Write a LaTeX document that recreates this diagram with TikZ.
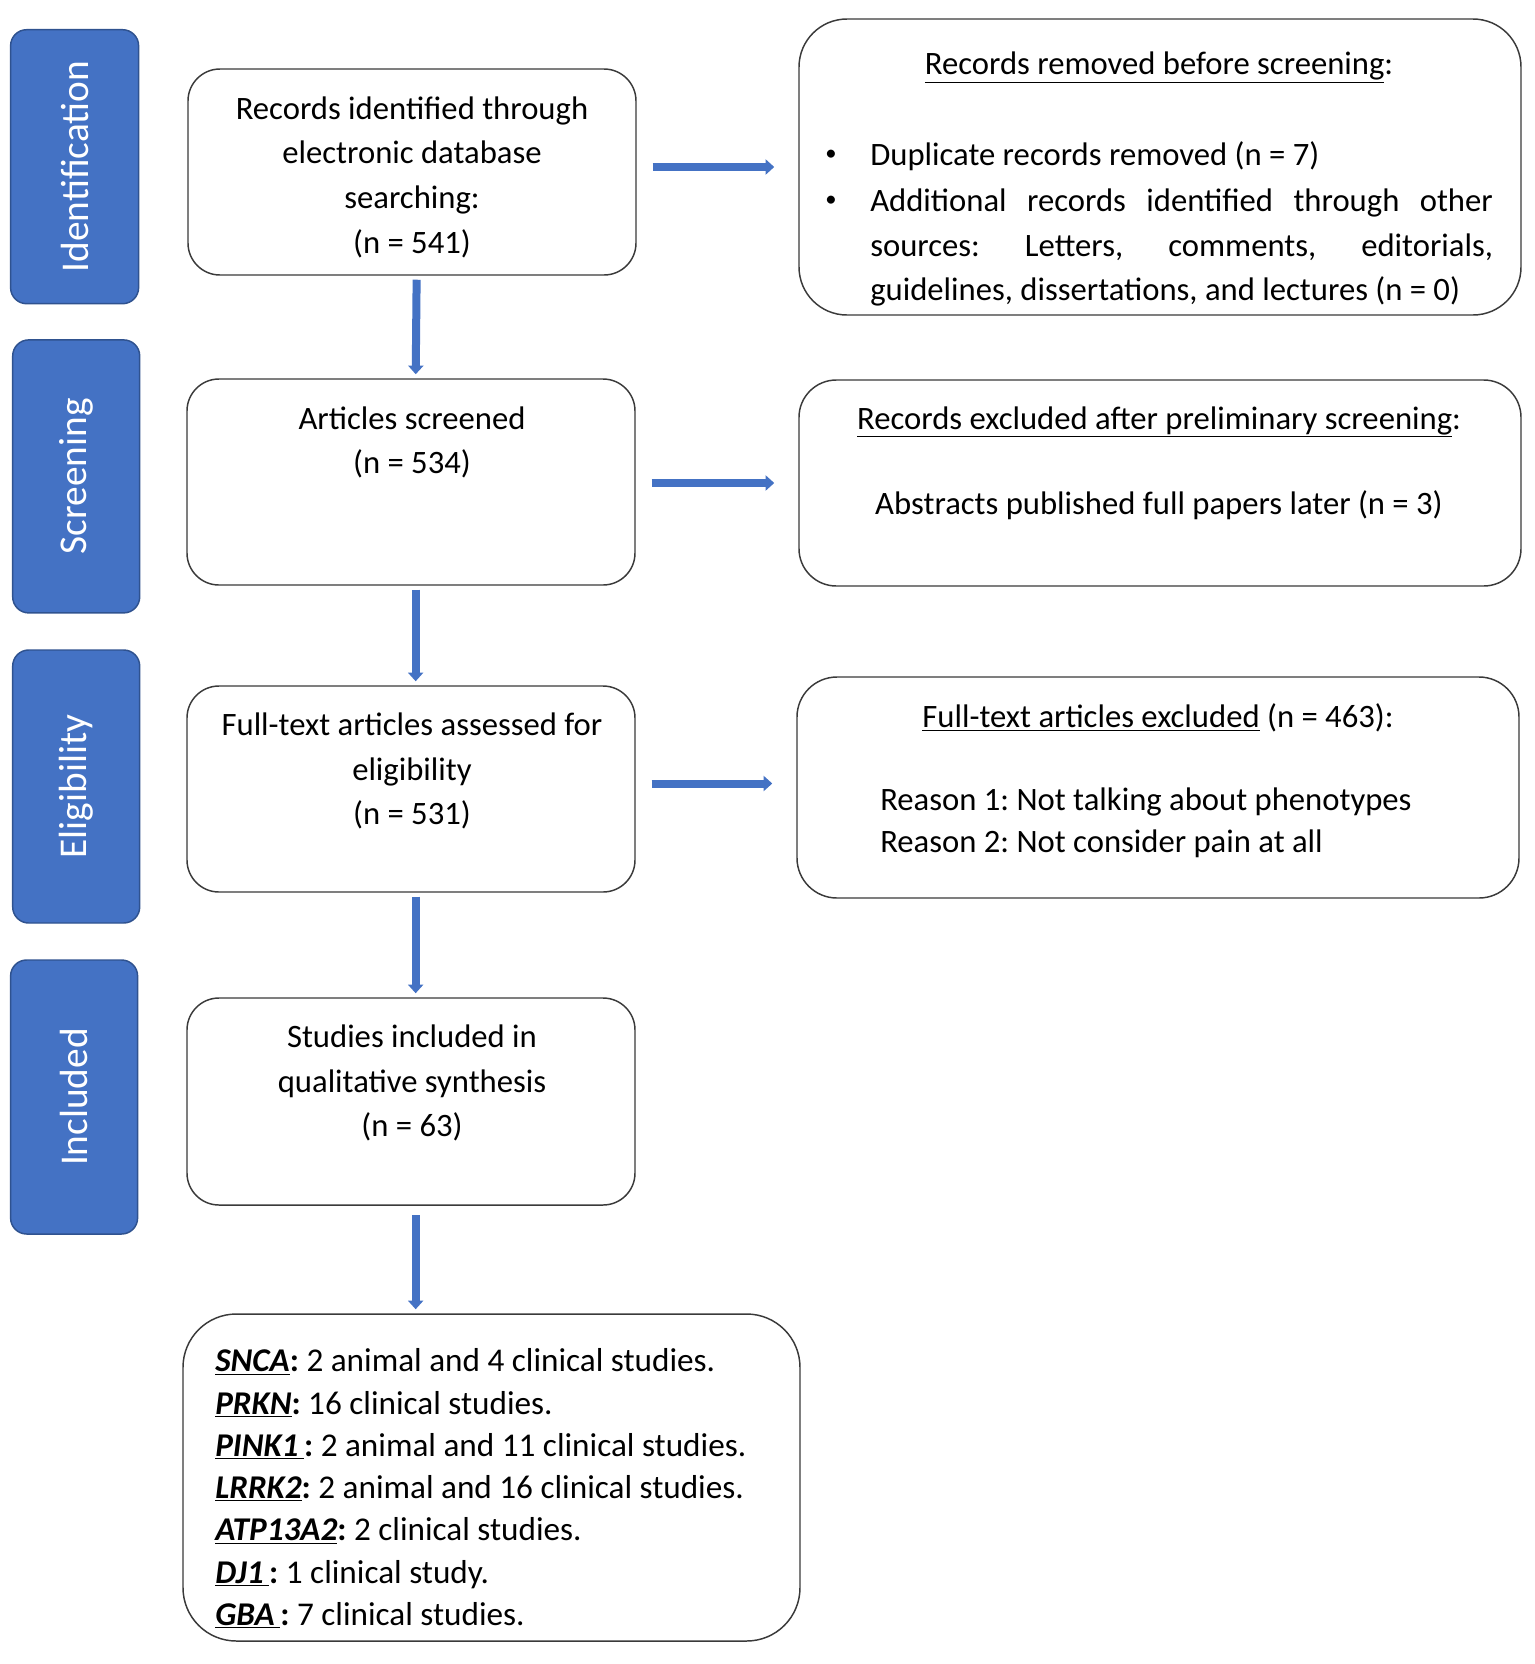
\documentclass[tikz,border=0pt]{standalone}
\usepackage{fontspec}
\setmainfont{Carlito}
\usetikzlibrary{arrows.meta}
\definecolor{obl}{HTML}{4472C4}
\definecolor{obd}{HTML}{2F528F}
\definecolor{bd}{HTML}{3A3A3A}
\newcommand\myul[1]{\underline{#1}}
\frenchspacing
\tikzset{
  stagebox/.style={draw=obd, line width=1.1pt, fill=obl, rounded corners=12pt, inner sep=0pt},
  stagetxt/.style={text=white, rotate=90, font=\fontsize{29.5pt}{34pt}\selectfont},
  wbox/.style={draw=bd, line width=1.1pt, fill=white, rounded corners=24pt, inner sep=0pt},
  txt/.style={font=\fontsize{24.5pt}{33.5pt}\selectfont, inner sep=0pt, align=center},
  arr/.style={draw=obl, line width=6pt, -{Triangle[length=6.5pt,width=11.25pt]}}
}
\begin{document}
\frenchspacing
\begin{tikzpicture}[x=0.75pt,y=-0.75pt]
\useasboundingbox (0,0) rectangle (1535,1664);
% stage boxes
\node[stagebox, minimum width=96pt, minimum height=205.5pt] (s1) at (74.6,166.7) {};
\node[stagebox, minimum width=95.25pt, minimum height=204.75pt] (s2) at (76.2,476.4) {};
\node[stagebox, minimum width=95.25pt, minimum height=204.75pt] (s3) at (76.2,786.5) {};
\node[stagebox, minimum width=95.25pt, minimum height=205.5pt] (s4) at (74.1,1097) {};
\node[stagetxt] (s1t) at (s1) {Identification};
\node[stagetxt] (s2t) at (s2) {Screening};
\node[stagetxt] (s3t) at (s3) {Eligibility};
\node[stagetxt] (s4t) at (s4) {Included};
% middle boxes
\node[wbox, minimum width=336pt, minimum height=154.5pt] (b1) at (412,172) {};
\node[wbox, minimum width=336pt, minimum height=154.5pt] (b2) at (411,482) {};
\node[wbox, minimum width=336pt, minimum height=154.5pt] (b3) at (411,789) {};
\node[wbox, minimum width=336pt, minimum height=155.25pt] (b4) at (411,1101.5) {};
\node[wbox, rounded corners=40pt, minimum width=462.75pt, minimum height=245.25pt] (b5) at (491.5,1477.5) {};
% right boxes
\node[wbox, rounded corners=36pt, minimum width=541.5pt, minimum height=222pt] (r1) at (1160,167) {};
\node[wbox, rounded corners=28pt, minimum width=541.5pt, minimum height=154.5pt] (r2) at (1160,483) {};
\node[wbox, rounded corners=30pt, minimum width=541.5pt, minimum height=165.75pt] (r3) at (1158,787.5) {};
% middle texts
\node[txt] (b1t) at (412,177) {Records identified through\\electronic database\\searching:\\(n = 541)};
\node[txt] (b2t) at (412,442.5) {Articles screened\\(n = 534)};
\node[txt] (b3t) at (412,771) {Full-text articles assessed for\\eligibility\\(n = 531)};
\node[txt] (b4t) at (412,1083) {Studies included in\\qualitative synthesis\\(n = 63)};
\node[txt, anchor=west, align=left, font=\fontsize{24.9pt}{31.7pt}\selectfont] (b5t) at (215,1488.5) {%
\textbf{\myul{\textit{SNCA}}:} 2 animal and 4 clinical studies.\\
\textbf{\myul{\textit{PRKN}}:} 16 clinical studies.\\
\textbf{\myul{\textit{PINK1}\,}:} 2 animal and 11 clinical studies.\\
\textbf{\myul{\textit{LRRK2}}:} 2 animal and 16 clinical studies.\\
\textbf{\myul{\textit{ATP13A2}}:} 2 clinical studies.\\
\textbf{\myul{\textit{DJ1}\,}:} 1 clinical study.\\
\textbf{\myul{\textit{GBA}\,}:} 7 clinical studies.};
% right texts
\node[txt] (r1t) at (1159,67.7) {\myul{Records removed before screening}:};
\node[txt, font=\fontsize{17pt}{20pt}\selectfont] (r1b1) at (831,155) {•};
\node[txt, font=\fontsize{17pt}{20pt}\selectfont] (r1b2) at (831,201) {•};
\node[txt, anchor=west] (r1i1) at (870,156.5) {Duplicate records removed (n = 7)};
\node[txt, anchor=west, align=justify, text width=467pt] (r1i2) at (870,247.7) {Additional records identified through other\linebreak sources: Letters, comments, editorials,\linebreak guidelines, dissertations, and lectures (n = 0)};
\node[txt] (r2t) at (1159,422) {\myul{Records excluded after preliminary screening}:};
\node[txt] (r2a) at (1159,505) {Abstracts published full papers later (n = 3)};
\node[txt] (r3t) at (1158,718) {\myul{Full-text articles excluded} (n = 463):};
\node[txt, anchor=west, align=left, font=\fontsize{24.5pt}{31.7pt}\selectfont] (r3a) at (880,823) {Reason 1: Not talking about phenotypes\\Reason 2: Not consider pain at all};
% arrows
\draw[arr, shorten <=3pt, shorten >=3pt] ([xshift=3.5pt]b1.south) -- ([xshift=3.5pt]b2.north);
\draw[arr, shorten <=3pt, shorten >=3pt] ([xshift=3.5pt]b2.south) -- ([xshift=3.5pt]b3.north);
\draw[arr, shorten <=3pt, shorten >=3pt] ([xshift=3.5pt]b3.south) -- ([xshift=3.5pt]b4.north);
\draw[arr, shorten <=7pt, shorten >=3pt] ([xshift=3.5pt]b4.south) -- ([xshift=3.5pt]b4.south |- b5.north);
\draw[arr, shorten <=12pt, shorten >=18pt] (b1.east |- r1.west) -- (r1.west);
\draw[arr, shorten <=12pt, shorten >=18pt] (b2.east |- r2.west) -- (r2.west);
\draw[arr, shorten <=12pt, shorten >=18pt] ([yshift=3pt]b3.east |- r3.west) -- ([yshift=3pt]r3.west);
\end{tikzpicture}
\end{document}
